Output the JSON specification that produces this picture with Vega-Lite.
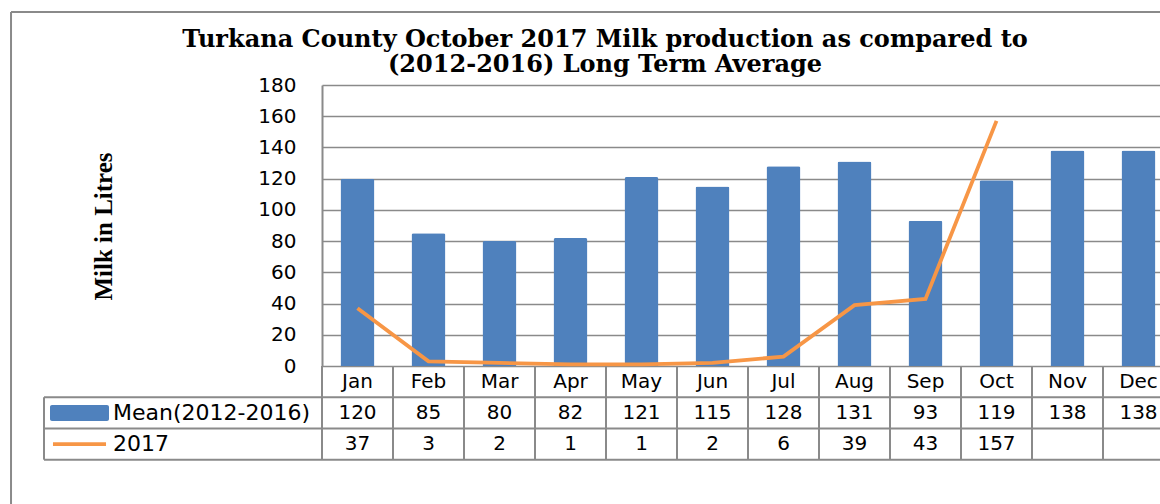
{
  "$schema": "https://vega.github.io/schema/vega-lite/v6.json",
  "autosize": {"type": "none"},
  "padding": {"left": 322, "top": 85, "right": 0, "bottom": 138},
  "width": 838,
  "height": 281,
  "background": "white",
  "config": {
    "view": {"stroke": null},
    "axisY": {
      "ticks": false,
      "labelOverlap": false,
      "labelPadding": 26,
      "labelFont": "DejaVu Sans",
      "labelFontSize": 20,
      "labelColor": "black",
      "domainColor": "#8a8a8a",
      "domainWidth": 2,
      "grid": true,
      "gridColor": "#8a8a8a",
      "gridWidth": 1.6,
      "titleFont": "Liberation Serif",
      "titleFontSize": 25,
      "titleFontWeight": "bold",
      "titleColor": "black",
      "titleX": -219,
      "titleY": 141,
      "titleAlign": "center",
      "titleBaseline": "middle",
      "titleAngle": 270
    }
  },
  "title": {
    "text": ["Turkana County October 2017 Milk production as compared to", "(2012-2016) Long Term Average"],
    "font": "DejaVu Serif",
    "fontSize": 24,
    "fontWeight": "bold",
    "color": "black",
    "anchor": "middle",
    "frame": "group",
    "lineHeight": 25,
    "dx": -136,
    "dy": 70,
    "offset": 4
  },
  "datasets": {
    "months": [
      {"month": "Jan", "n": 1, "mean": 120, "y2017": 37},
      {"month": "Feb", "n": 2, "mean": 85, "y2017": 3},
      {"month": "Mar", "n": 3, "mean": 80, "y2017": 2},
      {"month": "Apr", "n": 4, "mean": 82, "y2017": 1},
      {"month": "May", "n": 5, "mean": 121, "y2017": 1},
      {"month": "Jun", "n": 6, "mean": 115, "y2017": 2},
      {"month": "Jul", "n": 7, "mean": 128, "y2017": 6},
      {"month": "Aug", "n": 8, "mean": 131, "y2017": 39},
      {"month": "Sep", "n": 9, "mean": 93, "y2017": 43},
      {"month": "Oct", "n": 10, "mean": 119, "y2017": 157},
      {"month": "Nov", "n": 11, "mean": 138, "y2017": null},
      {"month": "Dec", "n": 12, "mean": 138, "y2017": null}
    ],
    "one": [{"row": 1}]
  },
  "layer": [
    {
      "data": {"name": "months"},
      "mark": {"type": "bar", "color": "#4F81BD", "width": 34, "cornerRadiusTopLeft": 2, "cornerRadiusTopRight": 2},
      "encoding": {
        "x": {"field": "n", "type": "quantitative", "scale": {"domain": [0.5, 12.3028], "nice": false, "zero": false, "padding": 0}, "axis": null},
        "y": {"field": "mean", "type": "quantitative", "scale": {"domain": [0, 180], "nice": false, "padding": 0}, "axis": {"values": [0, 20, 40, 60, 80, 100, 120, 140, 160, 180], "title": "Milk in Litres"}}
      }
    },
    {
      "data": {"name": "months"},
      "transform": [{"filter": "isValid(datum.y2017)"}],
      "mark": {"type": "line", "color": "#F79646", "strokeWidth": 3.8},
      "encoding": {"x": {"field": "n", "type": "quantitative", "axis": null}, "y": {"field": "y2017", "type": "quantitative", "axis": {"values": [0, 20, 40, 60, 80, 100, 120, 140, 160, 180], "title": "Milk in Litres"}}}
    },
    {
      "data": {"name": "months"},
      "mark": {"type": "rule", "color": "#8a8a8a", "strokeWidth": 2, "xOffset": -35.5},
      "encoding": {"x": {"field": "n", "type": "quantitative", "axis": null}, "y": {"datum": 0, "axis": {"values": [0, 20, 40, 60, 80, 100, 120, 140, 160, 180], "title": "Milk in Litres"}}, "y2": {"datum": -60}}
    },
    {
      "data": {"name": "months"},
      "mark": {"type": "text", "font": "DejaVu Sans", "fontSize": 20, "color": "black"},
      "encoding": {"x": {"field": "n", "type": "quantitative", "axis": null}, "text": {"field": "month"}, "y": {"datum": -10, "axis": {"values": [0, 20, 40, 60, 80, 100, 120, 140, 160, 180], "title": "Milk in Litres"}}}
    },
    {
      "data": {"name": "months"},
      "mark": {"type": "text", "font": "DejaVu Sans", "fontSize": 20, "color": "black"},
      "encoding": {"x": {"field": "n", "type": "quantitative", "axis": null}, "text": {"field": "mean"}, "y": {"datum": -30, "axis": {"values": [0, 20, 40, 60, 80, 100, 120, 140, 160, 180], "title": "Milk in Litres"}}}
    },
    {
      "data": {"name": "months"},
      "transform": [{"filter": "isValid(datum.y2017)"}],
      "mark": {"type": "text", "font": "DejaVu Sans", "fontSize": 20, "color": "black"},
      "encoding": {"x": {"field": "n", "type": "quantitative", "axis": null}, "text": {"field": "y2017"}, "y": {"datum": -50, "axis": {"values": [0, 20, 40, 60, 80, 100, 120, 140, 160, 180], "title": "Milk in Litres"}}}
    },
    {"data": {"name": "one"}, "mark": {"type": "rule", "color": "#8a8a8a", "strokeWidth": 2}, "encoding": {"x": {"datum": -3.4155, "axis": null}, "x2": {"datum": 12.5}, "y": {"datum": -20, "axis": {"values": [0, 20, 40, 60, 80, 100, 120, 140, 160, 180], "title": "Milk in Litres"}}}},
    {"data": {"name": "one"}, "mark": {"type": "rule", "color": "#8a8a8a", "strokeWidth": 2}, "encoding": {"x": {"datum": -3.4155, "axis": null}, "x2": {"datum": 12.5}, "y": {"datum": -40, "axis": {"values": [0, 20, 40, 60, 80, 100, 120, 140, 160, 180], "title": "Milk in Litres"}}}},
    {"data": {"name": "one"}, "mark": {"type": "rule", "color": "#8a8a8a", "strokeWidth": 2}, "encoding": {"x": {"datum": -3.4155, "axis": null}, "x2": {"datum": 12.5}, "y": {"datum": -60, "axis": {"values": [0, 20, 40, 60, 80, 100, 120, 140, 160, 180], "title": "Milk in Litres"}}}},
    {"data": {"name": "one"}, "mark": {"type": "rule", "color": "#8a8a8a", "strokeWidth": 2}, "encoding": {"x": {"datum": -3.4155, "axis": null}, "y": {"datum": -20, "axis": {"values": [0, 20, 40, 60, 80, 100, 120, 140, 160, 180], "title": "Milk in Litres"}}, "y2": {"datum": -60}}},
    {"data": {"name": "one"}, "mark": {"type": "rule", "color": "#8a8a8a", "strokeWidth": 2}, "encoding": {"x": {"datum": -3.88, "axis": null}, "y": {"datum": 226.8, "axis": {"values": [0, 20, 40, 60, 80, 100, 120, 140, 160, 180], "title": "Milk in Litres"}}, "y2": {"datum": -95}}},
    {"data": {"name": "one"}, "mark": {"type": "rule", "color": "#8a8a8a", "strokeWidth": 2}, "encoding": {"x": {"datum": -3.88, "axis": null}, "x2": {"datum": 12.5}, "y": {"datum": 226.8, "axis": {"values": [0, 20, 40, 60, 80, 100, 120, 140, 160, 180], "title": "Milk in Litres"}}}},
    {"data": {"name": "one"}, "mark": {"type": "rect", "color": "#4F81BD", "cornerRadius": 2}, "encoding": {"x": {"datum": -3.331, "axis": null}, "x2": {"datum": -2.5}, "y": {"datum": -25, "axis": {"values": [0, 20, 40, 60, 80, 100, 120, 140, 160, 180], "title": "Milk in Litres"}}, "y2": {"datum": -35.2}}},
    {"data": {"name": "one"}, "mark": {"type": "rule", "color": "#F79646", "strokeWidth": 3.8}, "encoding": {"x": {"datum": -3.289, "axis": null}, "x2": {"datum": -2.542}, "y": {"datum": -50, "axis": {"values": [0, 20, 40, 60, 80, 100, 120, 140, 160, 180], "title": "Milk in Litres"}}}},
    {"data": {"name": "one"}, "mark": {"type": "text", "font": "DejaVu Sans", "fontSize": 22, "color": "black", "align": "left"}, "encoding": {"x": {"datum": -2.444, "axis": null}, "y": {"datum": -30, "axis": {"values": [0, 20, 40, 60, 80, 100, 120, 140, 160, 180], "title": "Milk in Litres"}}, "text": {"value": "Mean(2012-2016)"}}},
    {"data": {"name": "one"}, "mark": {"type": "text", "font": "DejaVu Sans", "fontSize": 22, "color": "black", "align": "left"}, "encoding": {"x": {"datum": -2.444, "axis": null}, "y": {"datum": -50, "axis": {"values": [0, 20, 40, 60, 80, 100, 120, 140, 160, 180], "title": "Milk in Litres"}}, "text": {"value": "2017"}}}
  ]
}
